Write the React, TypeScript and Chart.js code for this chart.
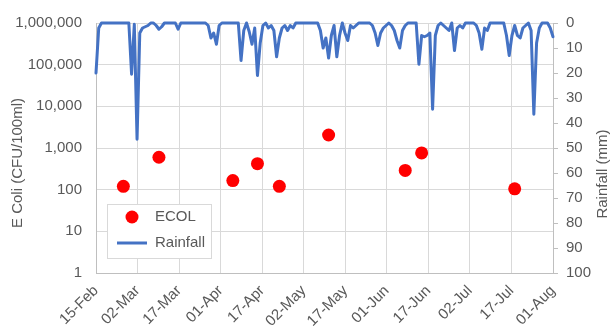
import { useEffect, useRef } from 'react';
import { Chart, registerables } from 'chart.js';

Chart.register(...registerables);

const START_DATE = '2021-02-15';
const END_DATE = '2021-08-01';

const xTickLabels = ['15-Feb', '02-Mar', '17-Mar', '01-Apr', '17-Apr', '02-May', '17-May', '01-Jun', '17-Jun', '02-Jul', '17-Jul', '01-Aug'];

const ecolDates = ['2021-02-25', '2021-03-10', '2021-04-06', '2021-04-15', '2021-04-23', '2021-05-11', '2021-06-08', '2021-06-14', '2021-07-18'];
const ecolValues = [120, 600, 165, 420, 120, 2050, 290, 760, 105];

// daily rainfall (mm) starting 15-Feb
const rainfallMm = [
  20, 2, 0, 0, 0, 0, 0, 0, 0, 0,
  0, 0, 0, 20.5, 0.5, 46.5, 4, 2, 1.5, 1,
  0, 0, 1, 2.5, 1.5, 0, 0, 0, 0, 0,
  2.5, 0, 0, 0, 0, 0, 0, 0, 0, 0,
  0, 1, 6, 4, 8.5, 1, 0, 0, 0, 0,
  0, 0, 0, 15, 3, 0, 3.5, 8.5, 2, 21,
  8, 1, 0, 2, 1, 3, 13.5, 6, 2, 1,
  3, 1, 2, 0, 0, 0, 0, 0, 0, 0,
  0, 0, 3, 10, 6, 14, 5, 1, 13.5, 5,
  0, 4, 7, 1, 2, 1, 0, 0, 0, 0,
  0, 1, 4, 9, 4, 2, 1, 0, 1, 3,
  7, 10, 3, 1, 0, 0, 0, 0, 16.5, 5,
  5.5, 5, 4, 34.5, 5, 1, 0, 1, 2, 3,
  0, 11, 2, 1, 2, 0, 0, 0, 0, 1,
  4, 10.5, 2, 3, 0, 0, 0, 0, 0, 0,
  5, 13, 5, 1, 5, 6, 2, 1, 0, 3,
  36.5, 8, 2, 0, 0, 0, 2, 5.5,
];

const eColiTicks = [1, 10, 100, 1000, 10000, 100000, 1000000];
const rainfallTicks = [0, 10, 20, 30, 40, 50, 60, 70, 80, 90, 100];

const dayOffset = (d: string) => (Date.parse(d) - Date.parse(START_DATE)) / 86400000;
const totalDays = dayOffset(END_DATE);

const FONT = '"Liberation Sans", Arial, sans-serif';
const TEXT = '#595959';
const GRID = '#d9d9d9';
const AXIS = '#bfbfbf';
const RED = '#ff0000';
const BLUE = '#4472c4';

const overlayPlugin = {
  id: 'overlay',
  afterDraw(chart: any) {
    const ctx = chart.ctx;
    ctx.save();
    ctx.font = `15px ${FONT}`;
    ctx.fillStyle = TEXT;
    ctx.textAlign = 'center';
    ctx.textBaseline = 'middle';
    // left axis title
    ctx.save();
    ctx.translate(18, 163);
    ctx.rotate(-Math.PI / 2);
    ctx.fillText('E Coli (CFU/100ml)', 0, 0);
    ctx.restore();
    // right axis title
    ctx.save();
    ctx.translate(603, 174);
    ctx.rotate(-Math.PI / 2);
    ctx.fillText('Rainfall (mm)', 0, 0);
    ctx.restore();

    // legend
    const lx = 107.5, ly = 204.5, lw = 104, lh = 54;
    ctx.fillStyle = '#ffffff';
    ctx.fillRect(lx, ly, lw, lh);
    ctx.strokeStyle = GRID;
    ctx.lineWidth = 1;
    ctx.strokeRect(lx, ly, lw, lh);
    ctx.fillStyle = RED;
    ctx.beginPath();
    ctx.arc(132, 217, 6.5, 0, Math.PI * 2);
    ctx.fill();
    ctx.strokeStyle = BLUE;
    ctx.lineWidth = 3;
    ctx.beginPath();
    ctx.moveTo(117, 243);
    ctx.lineTo(147, 243);
    ctx.stroke();
    ctx.fillStyle = TEXT;
    ctx.textAlign = 'left';
    ctx.fillText('ECOL', 155, 217);
    ctx.fillText('Rainfall', 155, 243);
    ctx.restore();
  },
};

export default function App() {
  const canvasRef = useRef<HTMLCanvasElement | null>(null);

  useEffect(() => {
    const canvas = canvasRef.current;
    if (!canvas) return;
    const chart = new Chart(canvas, {
      type: 'line',
      data: {
        datasets: [
          {
            type: 'scatter',
            label: 'ECOL',
            data: ecolDates.map((d, i) => ({ x: dayOffset(d), y: ecolValues[i] })),
            backgroundColor: RED,
            borderColor: RED,
            pointRadius: 6.5,
            pointBorderWidth: 0,
            showLine: false,
            yAxisID: 'y',
          } as any,
          {
            type: 'line',
            label: 'Rainfall',
            data: rainfallMm.map((v, i) => ({ x: i, y: v })),
            borderColor: BLUE,
            backgroundColor: BLUE,
            borderWidth: 3,
            pointRadius: 0,
            tension: 0,
            borderJoinStyle: 'round',
            borderCapStyle: 'round',
            clip: 6,
            yAxisID: 'y2',
          } as any,
        ],
      },
      options: {
        responsive: false,
        animation: false,
        events: [],
        layout: { padding: { top: 18, left: 0, right: 0, bottom: 0 } },
        plugins: {
          legend: { display: false },
          tooltip: { enabled: false },
        },
        scales: {
          x: {
            type: 'linear',
            min: 0,
            max: totalDays,
            afterBuildTicks: (s: any) => {
              s.ticks = xTickLabels.map((_, i) => ({ value: (i * totalDays) / (xTickLabels.length - 1) }));
            },
            afterFit: (s: any) => {
              s.height = 56;
            },
            ticks: {
              autoSkip: false,
              minRotation: 45,
              maxRotation: 45,
              padding: 9,
              color: TEXT,
              font: { family: FONT, size: 15 },
              callback: (_v: any, i: number) => xTickLabels[i],
            },
            grid: { color: GRID, drawTicks: false },
            border: { color: AXIS },
          },
          y: {
            type: 'logarithmic',
            position: 'left',
            min: 1,
            max: 1000000,
            afterBuildTicks: (s: any) => {
              s.ticks = eColiTicks.map((v) => ({ value: v, major: true }));
            },
            afterFit: (s: any) => {
              s.width = 96;
            },
            ticks: {
              padding: 14,
              color: TEXT,
              font: { family: FONT, size: 15 },
              callback: (v: any) => Number(v).toLocaleString('en-US'),
            },
            grid: { color: GRID, drawTicks: false },
            border: { color: AXIS },
          },
          y2: {
            type: 'linear',
            position: 'right',
            reverse: true,
            min: 0,
            max: 100,
            afterBuildTicks: (s: any) => {
              s.ticks = rainfallTicks.map((v) => ({ value: v }));
            },
            afterFit: (s: any) => {
              s.width = 61;
            },
            ticks: {
              padding: 8,
              color: TEXT,
              font: { family: FONT, size: 15 },
            },
            grid: { drawOnChartArea: false, color: AXIS, tickLength: 5 },
            border: { color: AXIS },
          },
        },
      } as any,
      plugins: [overlayPlugin],
    });
    return () => chart.destroy();
  }, []);

  return (
    <div style={{ position: 'fixed', left: 0, top: 0, width: 614, height: 329, background: '#fff' }}>
      <canvas ref={canvasRef} width={614} height={329} style={{ display: 'block' }} />
    </div>
  );
}
